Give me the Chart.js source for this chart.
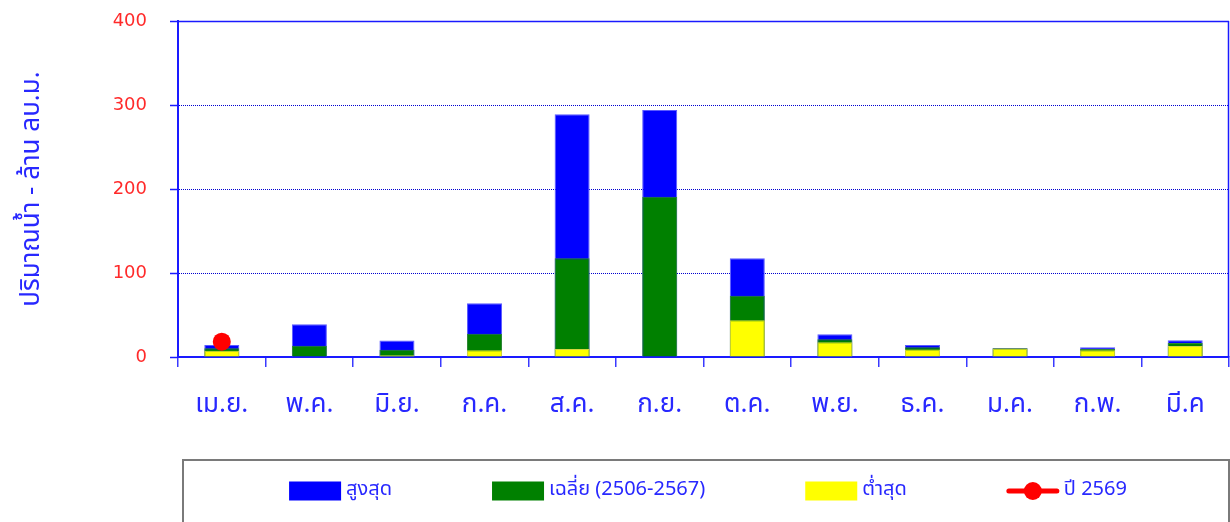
<!DOCTYPE html>
<html><head><meta charset="utf-8">
<script src="https://cdn.jsdelivr.net/npm/chart.js@4.4.1/dist/chart.umd.min.js"></script>
<style>html,body{margin:0;padding:0;background:#fff}#wrap{width:1230px;height:522px;position:relative;overflow:hidden}</style>
</head><body><div id="wrap"><canvas id="c" width="1230" height="522"></canvas></div>
<script>
const categories = ['เม.ย.','พ.ค.','มิ.ย.','ก.ค.','ส.ค.','ก.ย.','ต.ค.','พ.ย.','ธ.ค.','ม.ค.','ก.พ.','มี.ค'];
const maxValues = [14.3, 39, 19.5, 64, 289, 294, 117.5, 27, 14.3, 10.7, 11.5, 20];
const avgValues = [10.3, 13.5, 8.7, 27.8, 117.5, 190.8, 73, 21, 11.5, 10.3, 9.5, 16.7];
const minValues = [7.5, 0, 2, 8, 9.5, 0.5, 43.7, 17.5, 9, 10, 8, 13];
const year2569 = [18.2, null, null, null, null, null, null, null, null, null, null, null];
const yTicks = [0, 100, 200, 300, 400];
const seriesLabels = ['สูงสุด', 'เฉลี่ย (2506-2567)', 'ต่ำสุด', 'ปี 2569'];
const yTitle = 'ปริมาณน้ำ - ล้าน ลบ.ม.';

const FONT = "Tahoma, 'Noto Sans Thai', 'Leelawadee UI', 'DejaVu Sans', sans-serif";
const BLUE_TXT = '#2828ff';

const frame = {
  id: 'frame',
  beforeDatasetsDraw(chart) {
    const {ctx, chartArea: a} = chart;
    ctx.save();
    ctx.strokeStyle = '#1a1aff';
    ctx.lineWidth = 1.5;
    ctx.beginPath();
    ctx.moveTo(a.left, a.top + 0.5);
    ctx.lineTo(a.right, a.top + 0.5);
    ctx.moveTo(a.right - 0.5, a.top);
    ctx.lineTo(a.right - 0.5, a.bottom);
    ctx.stroke();
    ctx.restore();
  }
};

const boxLegend = {
  id: 'boxLegend',
  afterDraw(chart) {
    const ctx = chart.ctx;
    ctx.save();
    ctx.strokeStyle = '#7a7a7a';
    ctx.lineWidth = 2;
    ctx.strokeRect(183, 460, 1046, 90);
    ctx.font = '20px ' + FONT;
    ctx.textBaseline = 'middle';
    ctx.textAlign = 'left';
    const symW = 52, gapText = 5, gapItem = 100;
    const ds = chart.data.datasets;
    const widths = ds.map(d => symW + gapText + ctx.measureText(d.label).width);
    const total = widths.reduce((s, w) => s + w, 0) + gapItem * (ds.length - 1);
    let x = 708 - total / 2;
    const y = 491;
    ds.forEach((d, i) => {
      if (d.type === 'line') {
        ctx.strokeStyle = d.borderColor;
        ctx.lineWidth = 5;
        ctx.lineCap = 'round';
        ctx.beginPath();
        ctx.moveTo(x + 2, y);
        ctx.lineTo(x + symW - 2, y);
        ctx.stroke();
        ctx.fillStyle = d.pointBackgroundColor;
        ctx.beginPath();
        ctx.arc(x + symW / 2, y, 9, 0, Math.PI * 2);
        ctx.fill();
      } else {
        ctx.fillStyle = d.backgroundColor;
        ctx.fillRect(x, y - 9.5, symW, 19);
      }
      ctx.fillStyle = BLUE_TXT;
      ctx.fillText(d.label, x + symW + gapText, y);
      x += widths[i] + gapItem;
    });
    ctx.restore();
  }
};

new Chart(document.getElementById('c'), {
  data: {
    labels: categories,
    datasets: [
      {type: 'bar', label: seriesLabels[0], data: maxValues, backgroundColor: '#0000ff', borderColor: '#5a5aff', borderWidth: 1, grouped: false, order: 3, categoryPercentage: 0.4, barPercentage: 1},
      {type: 'bar', label: seriesLabels[1], data: avgValues, backgroundColor: '#008000', borderColor: '#2e8a2e', borderWidth: 1, grouped: false, order: 2, categoryPercentage: 0.4, barPercentage: 1},
      {type: 'bar', label: seriesLabels[2], data: minValues, backgroundColor: '#ffff00', borderColor: '#d6d640', borderWidth: 1, grouped: false, order: 1, categoryPercentage: 0.4, barPercentage: 1},
      {type: 'line', label: seriesLabels[3], data: year2569, borderColor: '#ff0000', backgroundColor: '#ff0000', pointBackgroundColor: '#ff0000', pointBorderColor: '#ff0000', pointRadius: 9, pointBorderWidth: 0, borderWidth: 4, order: 0, spanGaps: false, clip: false}
    ]
  },
  options: {
    responsive: false,
    animation: false,
    devicePixelRatio: 1,
    layout: {autoPadding: false, padding: {top: 21, right: 1, bottom: 105, left: 0}},
    plugins: {legend: {display: false}, tooltip: {enabled: false}},
    scales: {
      x: {
        offset: true,
        grid: {display: true, drawOnChartArea: false, drawTicks: true, tickLength: 10, color: '#3a3aff', lineWidth: 1.5, offset: true},
        border: {display: true, color: '#1a1aff', width: 2},
        ticks: {color: BLUE_TXT, font: {family: FONT, size: 26}, padding: 24, maxRotation: 0, autoSkip: false},
        afterFit(s) { s.height = 60; }
      },
      y: {
        min: 0, max: 400,
        afterBuildTicks(s) { s.ticks = yTicks.map(v => ({value: v})); },
        grid: {color: '#0000d0', lineWidth: 1, tickLength: 8, tickColor: '#1a1aff', tickWidth: 1.5, tickBorderDash: []},
        border: {display: true, color: '#1a1aff', width: 2, dash: [1, 1]},
        ticks: {color: '#ff2a2a', font: {family: "'DejaVu Sans', sans-serif", size: 18}, padding: 23},
        title: {display: true, text: yTitle, color: BLUE_TXT, font: {family: FONT, size: 26}, padding: {top: 18, bottom: 0}},
        afterFit(s) { s.width = 178; s.paddingTop = 0; s.paddingBottom = 0; }
      }
    }
  },
  plugins: [frame, boxLegend]
});
</script>
</body></html>
